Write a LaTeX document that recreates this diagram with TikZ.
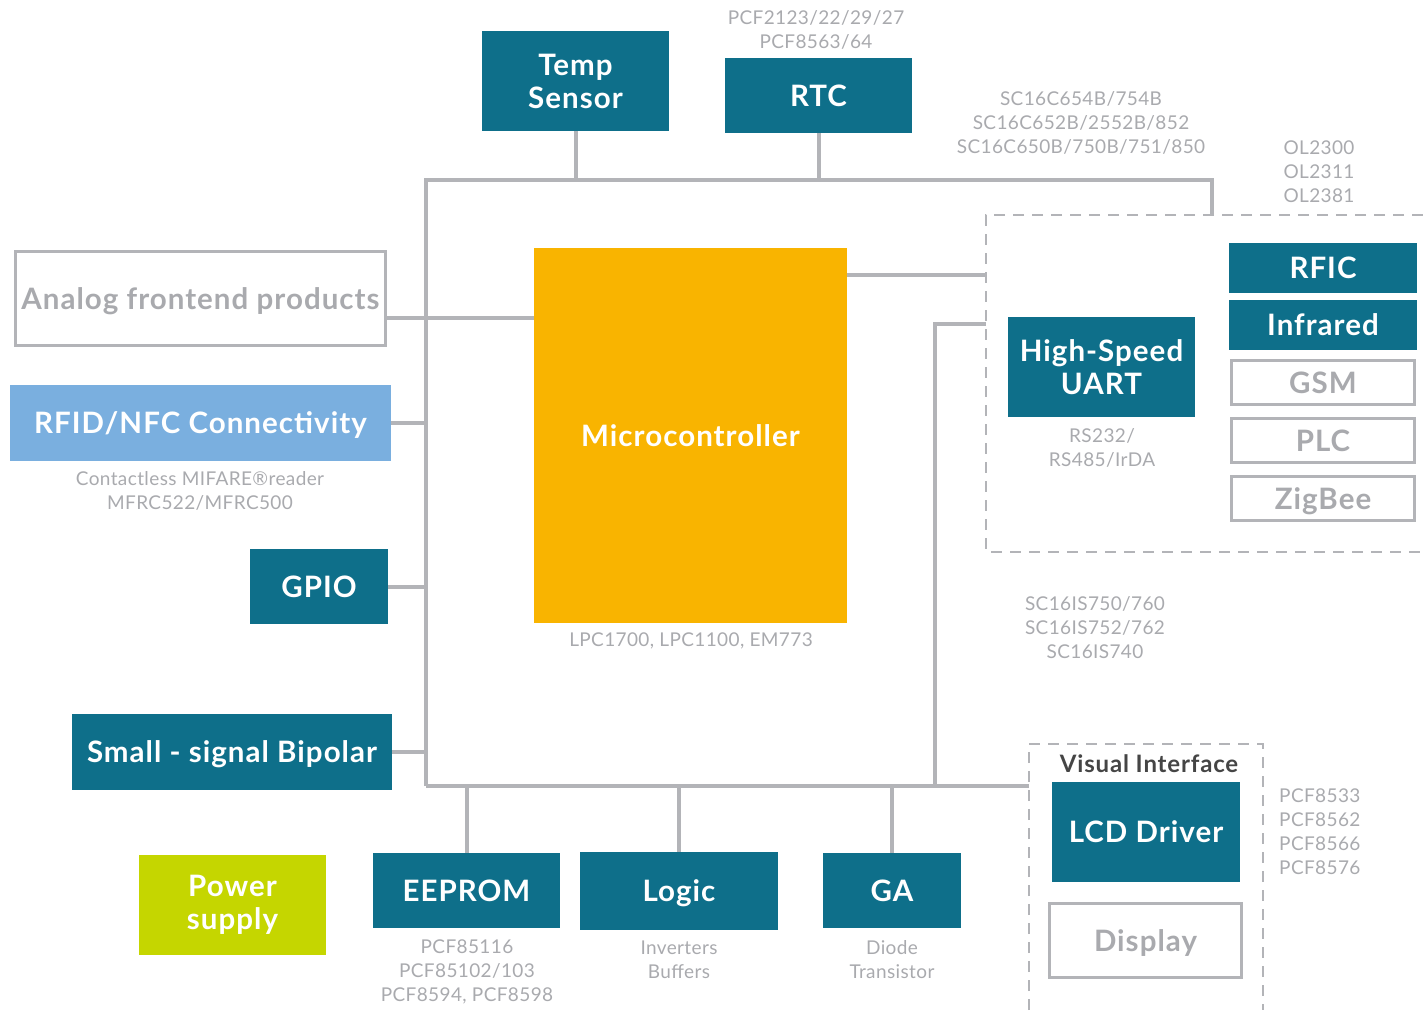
\documentclass[tikz,border=0pt]{standalone}
\usepackage{fontspec}
\setmainfont{Lato}
\newfontfamily\boxfont{Lato}[LetterSpace=3.5]
\newfontfamily\notefont{Lato}[LetterSpace=2]
\definecolor{tealc}{HTML}{0E6F8A}
\definecolor{linec}{HTML}{B3B4B8}
\definecolor{graytxt}{HTML}{A9AAAE}
\definecolor{mcuc}{HTML}{F9B400}
\definecolor{rfidc}{HTML}{7AAFDF}
\definecolor{powc}{HTML}{C5D600}
\definecolor{darktxt}{HTML}{454545}
\tikzset{
  boxlbl/.style={font=\boxfont\fontsize{29.5}{33}\selectfont\bfseries, align=center, inner sep=0pt},
  tealbox/.style={boxlbl, fill=tealc, text=white},
  outbox/.style={boxlbl, draw=linec, line width=3pt, fill=white, text=graytxt},
  note/.style={font=\notefont\fontsize{19}{24}\selectfont, text=graytxt, align=center, inner sep=0pt},
  bus/.style={draw=linec, line width=4pt},
  dashbox/.style={draw=linec, line width=1.6pt, dash pattern=on 11pt off 8pt},
  sl/.style={text height=21pt, text depth=0pt}
}
\begin{document}
\begin{tikzpicture}[x=1pt,y=-1pt]
\useasboundingbox (0,0) rectangle (1423,1010);
% corner coordinates of the bus
\coordinate (btl) at (426,180);
\coordinate (bbl) at (426,786);
\coordinate (btr) at (1212,180);
\coordinate (dtop) at (1212,215);
\coordinate (vtop) at (935,324);
\coordinate (vbot) at (935,786);
\coordinate (uleft) at (986,324);
\coordinate (mleft) at (986,275);
\coordinate (vileft) at (1029,786);

% dashed boxes
\coordinate (d1a) at (1423,215);
\coordinate (d1b) at (986,215);
\coordinate (d1c) at (986,552);
\coordinate (d1d) at (1423,552);
\draw[dashbox] (d1a) -- (d1b) -- (d1c) -- (d1d);
\coordinate (d2a) at (1029,1010);
\coordinate (d2b) at (1029,744);
\coordinate (d2c) at (1263,744);
\coordinate (d2d) at (1263,1010);
\draw[dashbox] (d2a) -- (d2b) -- (d2c) -- (d2d);

% nodes
\node[tealbox, minimum width=187pt, minimum height=100pt] (temp) at (575.5,81) {Temp\\Sensor};
\node[tealbox, sl, minimum width=187pt, minimum height=75pt] (rtc) at (818.5,95.5) {RTC};
\node[boxlbl, sl, fill=mcuc, text=white, minimum width=313pt, minimum height=375pt] (mcu) at (690.5,435.5) {Microcontroller};
\node[outbox, sl, minimum width=370pt, minimum height=94pt] (afe) at (200.5,298.5) {Analog frontend products};
\node[boxlbl, sl, fill=rfidc, text=white, minimum width=381pt, minimum height=76pt] (rfid) at (200.5,423) {RFID/NFC Connectivity};
\node[tealbox, sl, minimum width=138pt, minimum height=75pt] (gpio) at (319,586.5) {GPIO};
\node[tealbox, sl, minimum width=320pt, minimum height=76pt] (bip) at (232,752) {Small - signal Bipolar};
\node[boxlbl, fill=powc, text=white, minimum width=187pt, minimum height=100pt] (pow) at (232.5,905) {Power\\supply};
\node[tealbox, sl, minimum width=187pt, minimum height=75pt] (eep) at (466.5,890.5) {EEPROM};
\node[tealbox, sl, minimum width=198pt, minimum height=78pt] (logic) at (679,891) {Logic};
\node[tealbox, sl, minimum width=138pt, minimum height=75pt] (ga) at (892,890.5) {GA};
\node[tealbox, minimum width=187pt, minimum height=100pt] (uart) at (1101.5,367) {High-Speed\\UART};
\node[tealbox, sl, minimum width=188pt, minimum height=50pt] (rfic) at (1323,268) {RFIC};
\node[tealbox, sl, minimum width=188pt, minimum height=50pt] (ir) at (1323,325) {Infrared};
\node[outbox, sl, minimum width=183pt, minimum height=44pt] (gsm) at (1323,382.5) {GSM};
\node[outbox, sl, minimum width=183pt, minimum height=44pt] (plc) at (1323,440.5) {PLC};
\node[outbox, sl, minimum width=183pt, minimum height=44pt] (zig) at (1323,498.5) {ZigBee};
\node[tealbox, sl, minimum width=188pt, minimum height=100pt] (lcd) at (1146,832) {LCD Driver};
\node[outbox, sl, minimum width=192pt, minimum height=74pt] (disp) at (1145.5,940.5) {Display};
\node[font=\boxfont\fontsize{24}{28}\selectfont\bfseries, text=darktxt, inner sep=0pt] (vi) at (1149,764) {Visual Interface};

% notes
\node[note] (n1) at (816,30) {PCF2123/22/29/27\\PCF8563/64};
\node[note] (n2) at (1081,123) {SC16C654B/754B\\SC16C652B/2552B/852\\SC16C650B/750B/751/850};
\node[note] (n3) at (1319,172) {OL2300\\OL2311\\OL2381};
\node[note] (n4) at (1102,448) {RS232/\\RS485/IrDA};
\node[note] (n5) at (200,491) {Contactless MIFARE®reader\\MFRC522/MFRC500};
\node[note] (n6) at (691,641) {LPC1700, LPC1100, EM773};
\node[note] (n7) at (1095,628) {SC16IS750/760\\SC16IS752/762\\SC16IS740};
\node[note, align=left, anchor=west] (n8) at (1279,832) {PCF8533\\PCF8562\\PCF8566\\PCF8576};
\node[note] (n9) at (467,972) {PCF85116\\PCF85102/103\\PCF8594, PCF8598};
\node[note] (n10) at (679,960) {Inverters\\Buffers};
\node[note] (n11) at (892,960) {Diode\\Transistor};

% bus lines
\draw[bus] (bbl) -- (btl) -- (btr) -- (dtop);
\draw[bus] (bbl) -- (vileft);
\draw[bus] (vbot) -- (vtop) -- (uleft);
\draw[bus] (mcu.east |- mleft) -- (mleft);
\draw[bus] (temp.south) -- (temp.south |- btl);
\draw[bus] (rtc.south) -- (rtc.south |- btl);
\draw[bus] (afe.east |- 0,318) -- (mcu.west |- 0,318);
\draw[bus] (rfid.east) -- (rfid.east -| btl);
\draw[bus] (gpio.east) -- (gpio.east -| btl);
\draw[bus] (bip.east) -- (bip.east -| btl);
\draw[bus] (eep.north) -- (eep.north |- bbl);
\draw[bus] (logic.north) -- (logic.north |- bbl);
\draw[bus] (ga.north) -- (ga.north |- bbl);
\end{tikzpicture}
\end{document}
